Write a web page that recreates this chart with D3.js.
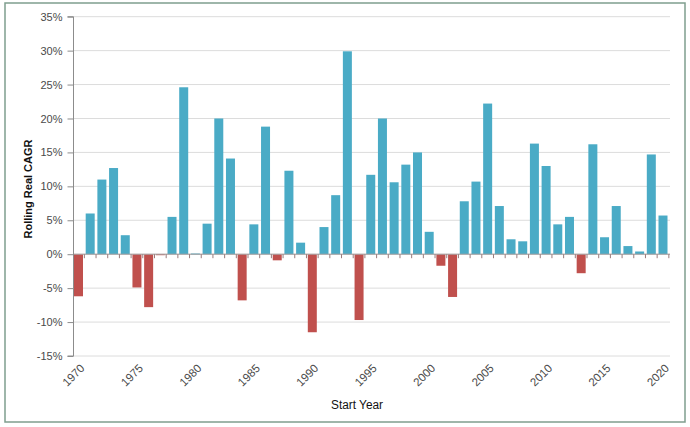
<!DOCTYPE html>
<html><head><meta charset="utf-8">
<script src="https://cdn.jsdelivr.net/npm/d3@7"></script>
<style>
html,body{margin:0;padding:0;background:#fff;}
svg{display:block;font-family:"Liberation Sans",Arial,sans-serif;}
</style></head>
<body>
<svg id="chart" width="690" height="427"></svg>
<script>
const years = d3.range(1970, 2021);
const cagr = [
  -6.2, 6.0, 11.0, 12.7, 2.8, -4.9, -7.8, -0.1, 5.5, 24.6,
  0.1, 4.5, 20.0, 14.1, -6.8, 4.4, 18.8, -0.9, 12.3, 1.7,
  -11.5, 4.0, 8.7, 29.9, -9.7, 11.7, 20.0, 10.6, 13.2, 15.0,
  3.3, -1.7, -6.3, 7.8, 10.7, 22.2, 7.1, 2.2, 1.9, 16.3,
  13.0, 4.4, 5.5, -2.8, 16.2, 2.5, 7.1, 1.2, 0.4, 14.7,
  5.7
];
const yTicks = [-15, -10, -5, 0, 5, 10, 15, 20, 25, 30, 35];
const xLabelYears = [1970, 1975, 1980, 1985, 1990, 1995, 2000, 2005, 2010, 2015, 2020];

(function () {
const svg = d3.select("#chart");
svg.append("rect").attr("x",5).attr("y",3).attr("width",680).attr("height",419)
  .attr("fill","#fff").attr("stroke","#7f9e8e").attr("stroke-width",1.5);

const pl = 74, pr = 670, pt = 16.7, pb = 356;
const y = d3.scaleLinear().domain([-15, 35]).range([pb, pt]);
const x = d3.scaleBand().domain(years).range([pl, 667.5]).paddingInner(0.23).paddingOuter(0);
const step = x.step(), bw = x.bandwidth();

svg.append("g").selectAll("line").data(yTicks).join("line")
  .attr("x1", pl).attr("x2", pr)
  .attr("y1", d => y(d)).attr("y2", d => y(d))
  .attr("stroke", "#dcdcdc").attr("stroke-width", 1);

const yAxis = d3.axisLeft(y).tickValues(yTicks).tickFormat(d => d + "%").tickSize(6).tickPadding(5);
const ga = svg.append("g").attr("transform", `translate(${pl - 0.5},0)`).call(yAxis);
ga.select(".domain").attr("stroke", "#8c8c8c").attr("d", `M-6,${pt}H0V${pb}H-6`);
ga.selectAll(".tick line").attr("stroke", "#8c8c8c");
ga.selectAll(".tick text").attr("fill", "#4a4a4a").style("font-size", "11px");

svg.append("g").selectAll("rect").data(years.map((yr, i) => ({yr, v: cagr[i]}))).join("rect")
  .attr("x", d => x(d.yr))
  .attr("width", bw)
  .attr("y", d => y(Math.max(0, d.v)))
  .attr("height", d => Math.max(1, Math.abs(y(d.v) - y(0))))
  .attr("fill", d => d.v >= 0 ? "#4aabc6" : "#c0504d");

svg.append("line").attr("x1", pl).attr("x2", pr).attr("y1", y(0)).attr("y2", y(0))
  .attr("stroke", "#a8a0a0").attr("stroke-width", 1);
svg.append("g").selectAll("line").data(years).join("line")
  .attr("x1", d => x(d) + bw + (step - bw) / 2).attr("x2", d => x(d) + bw + (step - bw) / 2)
  .attr("y1", y(0)).attr("y2", y(0) + 4)
  .attr("stroke", "#9a7a7a").attr("stroke-width", 1);

svg.append("g").selectAll("text").data(xLabelYears).join("text")
  .attr("transform", d => `translate(${x(d) + bw / 2 + 4},${pb + 10}) rotate(-45)`)
  .attr("text-anchor", "end").attr("dy", "0.35em")
  .attr("fill", "#4a4a4a").style("font-size", "11.5px")
  .text(d => d);

svg.append("text").attr("x", 357).attr("y", 409).attr("text-anchor", "middle")
  .style("font-size", "12px").attr("fill", "#111")
  .attr("textLength", 52).attr("lengthAdjust", "spacingAndGlyphs").text("Start Year");
svg.append("text").attr("transform", "translate(32,189) rotate(-90)").attr("text-anchor", "middle")
  .style("font-size", "11.5px").style("font-weight", "bold").attr("fill", "#111")
  .attr("textLength", 99).attr("lengthAdjust", "spacingAndGlyphs").text("Rolling Real CAGR");
})();
</script>
</body></html>
